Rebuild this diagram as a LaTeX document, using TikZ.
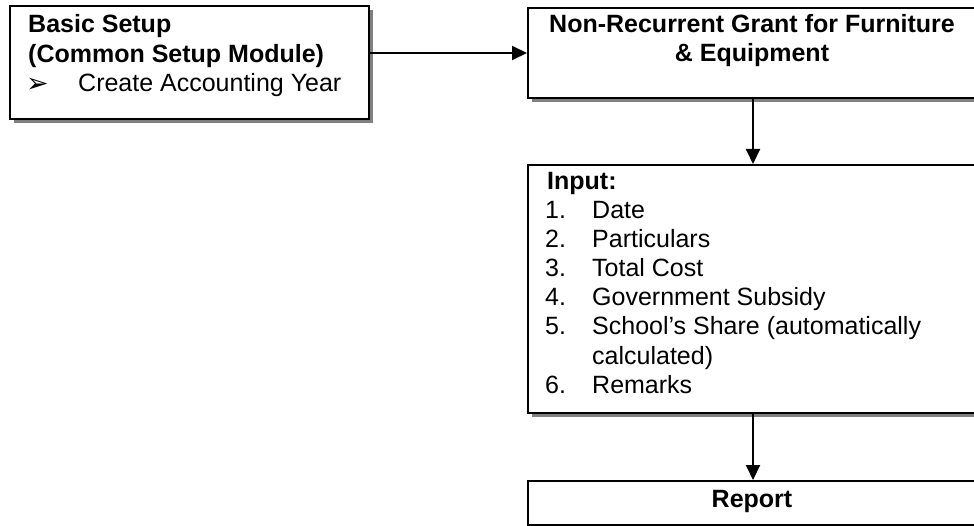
\documentclass[tikz,border=0pt]{standalone}
\usepackage{fontspec}
\setmainfont{Liberation Sans}
\newfontfamily\symfont{DejaVu Sans}
\usetikzlibrary{arrows.meta,shadows}
\definecolor{shadowgray}{RGB}{128,128,128}
\begin{document}
\begin{tikzpicture}[x=1pt,y=-1pt,
  box/.style={draw=black, line width=2pt, fill=white, rectangle, inner sep=0pt,
    anchor=north west,
    drop shadow={shadow xshift=4pt, shadow yshift=-4pt, fill=shadowgray, opacity=1}},
  txt/.style={inner sep=0pt, font=\fontsize{25}{29}\selectfont, anchor=base west},
  ctxt/.style={txt, anchor=base},
  flow/.style={line width=2pt, -{Triangle[length=15pt,width=14pt]}}]
\useasboundingbox (0,0) rectangle (974,526);

% boxes
\node[box, minimum width=359pt, minimum height=113pt] (setup) at (9,5) {};
\node[box, minimum width=450pt, minimum height=90pt] (grant) at (527,7) {};
\node[box, minimum width=450pt, minimum height=248pt] (input) at (527,164) {};
\node[box, minimum width=450pt, minimum height=44pt] (report) at (527,480) {};

% basic setup
\node[txt, font=\fontsize{25}{29}\selectfont\bfseries] (setupA) at (28,33) {Basic Setup};
\node[txt, font=\fontsize{25}{29}\selectfont\bfseries] (setupB) at (28,62.5) {(Common Setup Module)};
\node[txt, font=\fontsize{27}{30}\symfont] (bullet) at (26,93) {➢};
\node[txt] (setupC) at (78,92) {Create Accounting Year};

% grant
\node[ctxt, font=\fontsize{25}{29}\selectfont\bfseries] (grantA) at (752,33) {Non-Recurrent Grant for Furniture};
\node[ctxt, font=\fontsize{25}{29}\selectfont\bfseries] (grantB) at (752,62) {\& Equipment};

% input list
\node[txt, font=\fontsize{25}{29}\selectfont\bfseries] (inputH) at (547,190) {Input:};
\foreach \n/\t/\yy in {1/Date/219, 2/Particulars/248, 3/Total Cost/277,
    4/Government Subsidy/306, 5/School’s Share (automatically/335, 6/Remarks/393}{
  \node[txt] (num\n) at (545,\yy) {\n.};
  \node[txt] (item\n) at (592,\yy) {\t};
}
\node[txt] (item5b) at (592,364) {calculated)};

% report
\node[ctxt, font=\fontsize{25}{29}\selectfont\bfseries] (reportT) at (752,507) {Report};

% connectors
\draw[flow] (setup.east |- grant.west) -- (grant.west);
\draw[flow] (grant.south) -- (input.north);
\draw[flow] (input.south) -- (report.north);
\end{tikzpicture}
\end{document}
